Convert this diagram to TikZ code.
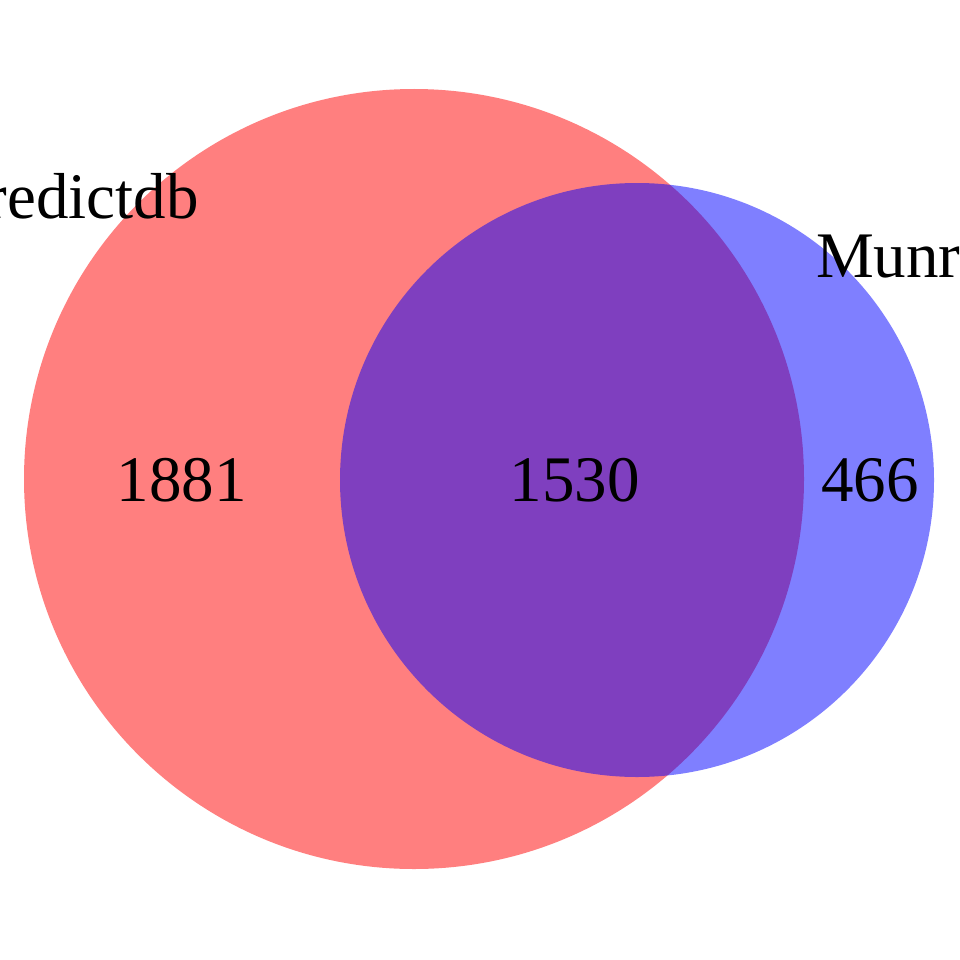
\documentclass[tikz,border=0pt]{standalone}
\usepackage{fontspec}
\setmainfont{Liberation Serif}
\begin{document}
\begin{tikzpicture}[x=1pt,y=-1pt,
  setcircle/.style={circle, inner sep=0pt, draw=none, fill opacity=0.5},
  lbl/.style={inner sep=0pt, font=\fontsize{65}{78}\selectfont}]
\useasboundingbox (0,0) rectangle (960,960);
\clip (0,0) rectangle (960,960);
\node[setcircle, fill=red, minimum size=780pt] (A) at (414,479) {};
\node[setcircle, fill=blue, minimum size=594pt] (B) at (637,480) {};
\node[lbl, anchor=base east] (nA) at (199,218) {predictdb};
\node[lbl, anchor=base west] (nB) at (816,277) {Munro};
\node[lbl, anchor=base] (c1) at (181.5,501) {1881};
\node[lbl, anchor=base] (c2) at (574.5,501) {1530};
\node[lbl, anchor=base] (c3) at (870,501) {466};
\end{tikzpicture}
\end{document}
